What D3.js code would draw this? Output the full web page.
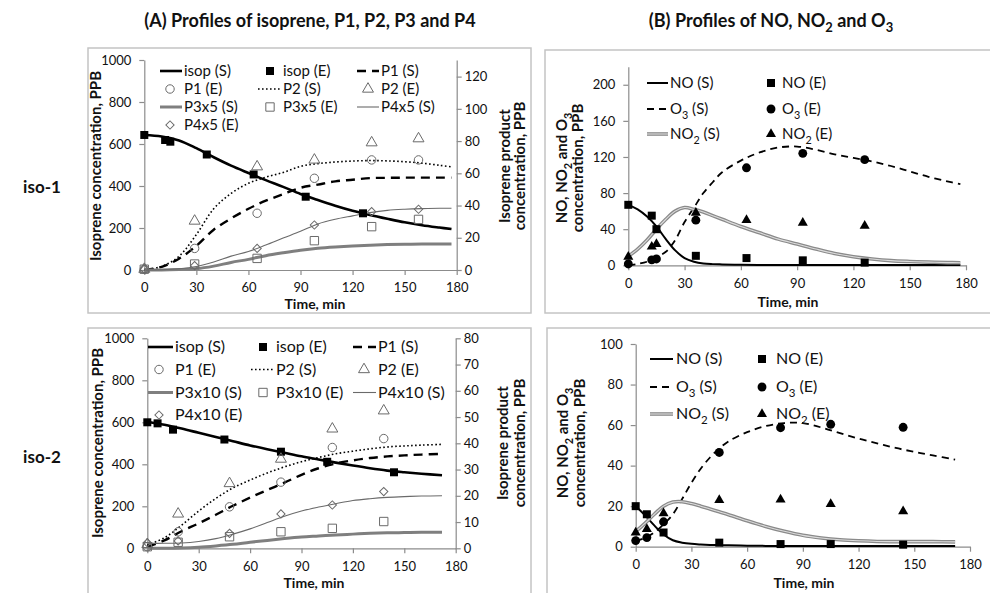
<!DOCTYPE html>
<html>
<head>
<meta charset="utf-8">
<script src="https://cdn.jsdelivr.net/npm/d3@7/dist/d3.min.js"></script>
<style>
  body { margin: 0; background: #fff; }
  svg text { font-family: Lato, "Open Sans", sans-serif; fill: #111; }
</style>
</head>
<body>
<svg id="chart" width="990" height="593"></svg>
<script>
'use strict';

// ---- data: iso-1, panel A (left axis isoprene, right axis products) ----
var a1ModelTime = [0, 10, 20, 30, 40, 50, 60, 70, 80, 90, 100, 110, 120, 130, 140, 150, 160, 170, 177];
var a1IsopS = [643, 636, 617, 580, 537, 497, 462, 428, 396, 362, 333, 306, 282, 262, 244, 227, 213, 202, 195];
var a1P1S = [0, 2, 7, 15, 25, 32, 38, 43, 47, 51, 53, 55, 56, 57, 57.2, 57.3, 57.3, 57.3, 57.3];
var a1P2S = [0, 2.2, 8.5, 22, 38, 47.5, 53.8, 57.6, 60.5, 64.3, 66, 67, 67.6, 67.9, 67.7, 67.2, 66.3, 65, 64];
var a1P3S = [0, 0, 0.3, 0.8, 2.4, 4.7, 6.6, 8.9, 10.7, 12.3, 13.5, 14.3, 14.9, 15.4, 15.8, 16, 16.1, 16.1, 16.1];
var a1P4S = [0, 0.2, 0.8, 2.2, 5, 8.6, 11.5, 15.5, 19.8, 24, 28.6, 31.5, 33.6, 35.6, 37, 37.7, 38.1, 38.3, 38.3];
var a1IsopTime = [0, 12, 15, 36, 63, 93, 126];
var a1IsopE = [643, 619, 611, 550, 455, 349, 270];
var a1ProdTime = [0, 29, 65, 98, 131, 158];
var a1P1E = [0.5, 13.4, 35.2, 56.9, 68.3, 68.3];
var a1P2E = [0.5, 30.4, 64.1, 68.3, 79, 81.5];
var a1P3E = [0.5, 3.7, 7.2, 18.2, 26.9, 31.4];
var a1P4E = [0.5, 2.7, 13.4, 27.9, 36.2, 37.7];

// ---- data: iso-2, panel A ----
var a2ModelTime = [0, 10, 20, 30, 40, 50, 60, 70, 80, 90, 100, 110, 120, 130, 140, 150, 160, 172];
var a2IsopS = [603, 588, 570, 550, 530, 510, 490, 472, 455, 438, 423, 408, 394, 381, 370, 362, 355, 348];
var a2P1S = [0.5, 3, 6.5, 9.5, 12.8, 16.2, 19.3, 22.2, 25, 28, 30.5, 32.3, 33.5, 34.4, 35, 35.4, 35.7, 36];
var a2P2S = [1.3, 4, 8.8, 14.2, 19, 23, 26, 28.7, 31, 33, 34.6, 36, 37, 37.9, 38.6, 39, 39.3, 39.6];
var a2P3S = [0, 0, 0.1, 0.4, 0.9, 1.5, 2.3, 3, 3.7, 4.3, 4.7, 5.1, 5.4, 5.7, 5.9, 6, 6.1, 6.1];
var a2P4S = [1.9, 1.9, 2, 2.6, 3.7, 5.4, 7.4, 9.8, 12.2, 14.2, 15.7, 17, 18.2, 18.9, 19.4, 19.7, 19.9, 20];
var a2IsopTime = [0, 6, 15, 45, 78, 105, 144];
var a2IsopE = [600, 595, 565, 518, 460, 412, 362];
var a2ProdTime = [0, 18, 48, 78, 108, 138];
var a2P1E = [0.6, 6.3, 15.8, 25.2, 38.4, 41.8];
var a2P2E = [1.5, 13.1, 24.7, 34, 45.5, 52.4];
var a2P3E = [0.6, 2.3, 4.4, 6.3, 7.6, 10.2];
var a2P4E = [2.1, 2.8, 5.7, 13.1, 16.5, 21.6];

// ---- data: iso-1, panel B ----
var b1ModelTime = [0, 5, 10, 15, 20, 25, 30, 35, 40, 45, 50, 60, 70, 80, 90, 100, 110, 120, 130, 140, 150, 160, 170, 177];
var b1NoS = [67, 62, 54, 43, 29, 16.5, 8, 4, 2, 1.3, 1, 0.6, 0.4, 0.3, 0.3, 0.3, 0.2, 0.2, 0.2, 0.2, 0.2, 0.2, 0.2, 0.2];
var b1O3S = [0, 1.5, 4, 9, 15, 28, 48, 64, 80, 92, 103, 116, 125, 130.5, 131.5, 128, 123, 119, 115, 110, 104, 98, 93, 90];
var b1No2S = [10, 18, 28, 40, 51, 60, 64, 62, 59, 55, 51, 43, 36, 29, 23.5, 18, 13, 9.5, 7, 5.2, 4.2, 3.5, 3, 2.9];
var b1ExpTime = [0, 12.5, 15, 36, 63, 93, 126];
var b1NoE = [67, 55, 40, 10.5, 8, 5.5, 3];
var b1O3E = [1.5, 6, 7, 50, 108, 124, 117];
var b1No2E = [9.5, 20.6, 23.5, 58, 50, 47, 43.8];

// ---- data: iso-2, panel B ----
var b2ModelTime = [0, 5, 10, 15, 20, 25, 30, 35, 40, 45, 50, 60, 70, 80, 90, 100, 110, 120, 130, 140, 150, 160, 172];
var b2NoS = [20, 15.5, 10.5, 6, 3.2, 2, 1.4, 1.1, 0.9, 0.8, 0.7, 0.5, 0.4, 0.3, 0.3, 0.3, 0.3, 0.3, 0.3, 0.3, 0.3, 0.3, 0.3];
var b2O3S = [3, 4.3, 7, 11, 16, 23.5, 31.5, 38.5, 44, 48.5, 52, 56.5, 59.5, 61, 61, 58.8, 56, 53.3, 51, 48.7, 46.8, 45, 43];
var b2No2S = [7.5, 11.5, 16, 20, 22, 22.2, 21.3, 20, 18.6, 17.2, 15.8, 12.8, 10, 7.6, 5.6, 4.3, 3.4, 2.9, 2.6, 2.5, 2.5, 2.5, 2.4];
var b2ExpTime = [0, 6, 15, 45, 78, 105, 144];
var b2NoE = [20, 16, 7, 2, 1.3, 1.3, 1];
var b2O3E = [3, 4.5, 12.3, 46.5, 58.7, 60.4, 58.9];
var b2No2E = [7, 8.7, 16.5, 23, 23.3, 21, 17.5];

var timeTicks = [0, 30, 60, 90, 120, 150, 180];

// ---- styles ----
var lineStyles = {
  isop: {stroke: '#000', width: 2.6},
  p1: {stroke: '#000', width: 2.4, dash: '9,6'},
  p2: {stroke: '#000', width: 1.6, dash: '1.6,2.4'},
  p3: {stroke: '#7f7f7f', width: 3},
  p4: {stroke: '#6a6a6a', width: 1.1},
  no: {stroke: '#000', width: 2},
  o3: {stroke: '#000', width: 1.8, dash: '7,5'},
  no2: {stroke: '#8a8a8a', width: 3.6, inner: '#dcdcdc'}
};
var markerStyles = {
  isop: {type: 'square', size: 64, fill: '#000', stroke: 'none'},
  p1: {type: 'circle', size: 56, fill: 'none', stroke: '#6a6a6a'},
  p2: {type: 'triangle', size: 52, fill: 'none', stroke: '#6a6a6a'},
  p3: {type: 'square', size: 70, fill: 'none', stroke: '#6a6a6a'},
  p4: {type: 'diamond', size: 34, fill: 'none', stroke: '#6a6a6a'},
  no: {type: 'square', size: 64, fill: '#000', stroke: 'none'},
  o3: {type: 'circle', size: 62, fill: '#000', stroke: 'none'},
  no2: {type: 'triangle', size: 44, fill: '#000', stroke: 'none'}
};

var svg = d3.select('#chart');

function symbolPath(m) {
  var type = {square: d3.symbolSquare, circle: d3.symbolCircle,
              triangle: d3.symbolTriangle, diamond: d3.symbolSquare}[m.type];
  return d3.symbol().type(type).size(m.size)();
}

function drawMarker(g, m, cx, cy) {
  g.append('path')
    .attr('d', symbolPath(m))
    .attr('transform', 'translate(' + cx + ',' + cy + ')' + (m.type === 'diamond' ? ' rotate(45)' : ''))
    .attr('fill', m.fill)
    .attr('stroke', m.stroke)
    .attr('stroke-width', 1);
}

function drawLine(g, s, xs, ys, times, vals) {
  var line = d3.line()
    .x(function(d, i) { return xs(times[i]); })
    .y(function(d) { return ys(d); })
    .curve(d3.curveCatmullRom.alpha(0.5));
  var p = g.append('path').attr('d', line(vals))
    .attr('fill', 'none').attr('stroke', s.stroke).attr('stroke-width', s.width);
  if (s.dash) p.attr('stroke-dasharray', s.dash);
  if (s.inner) {
    g.append('path').attr('d', line(vals))
      .attr('fill', 'none').attr('stroke', s.inner).attr('stroke-width', 1.1);
  }
}

function drawLegendLine(g, s, x0, x1, y) {
  var p = g.append('line').attr('x1', x0).attr('x2', x1).attr('y1', y).attr('y2', y)
    .attr('stroke', s.stroke).attr('stroke-width', s.width);
  if (s.dash) p.attr('stroke-dasharray', s.dash);
  if (s.inner) {
    g.append('line').attr('x1', x0).attr('x2', x1).attr('y1', y).attr('y2', y)
      .attr('stroke', s.inner).attr('stroke-width', 1.1);
  }
}

// text with optional subscripts: parts = [['NO'], ['2', true], [' (S)']]
function richText(g, parts, x, y, size, bold) {
  var t = g.append('text').attr('x', x).attr('y', y)
    .style('font-size', size + 'px').style('font-weight', bold ? 700 : 400);
  var shifted = false;
  parts.forEach(function(p) {
    var ts = t.append('tspan').text(p[0]);
    if (p[1] && !shifted) { ts.attr('dy', size * 0.3).style('font-size', (size * 0.72) + 'px'); shifted = true; }
    else if (!p[1] && shifted) { ts.attr('dy', -size * 0.3); shifted = false; }
  });
  return t;
}

function styleAxis(ax) {
  ax.select('.domain').attr('stroke', '#8c8c8c').attr('stroke-width', 1.2);
  ax.selectAll('.tick line').attr('stroke', '#8c8c8c').attr('stroke-width', 1.2);
  ax.selectAll('.tick text').style('font-size', '13px').attr('fill', '#111');
}

function drawPanel(p) {
  var g = svg.append('g');
  g.append('rect').attr('x', p.frame[0]).attr('y', p.frame[1])
    .attr('width', p.frame[2]).attr('height', p.frame[3])
    .attr('fill', '#fff').attr('stroke', '#c4c4c4').attr('stroke-width', 1.5);

  var x = d3.scaleLinear().domain([0, 180]).range([p.left, p.right]);
  var y = d3.scaleLinear().domain([0, p.yMax]).range([p.bottom, p.top]);
  var y2 = p.y2Max ? d3.scaleLinear().domain([0, p.y2Max]).range([p.bottom, p.top]) : null;
  var fmt = d3.format('d');

  styleAxis(g.append('g').attr('transform', 'translate(0,' + p.bottom + ')')
    .call(d3.axisBottom(x).tickValues(timeTicks).tickFormat(fmt)
      .tickSize(5).tickSizeOuter(0).tickPadding(8)));
  styleAxis(g.append('g').attr('transform', 'translate(' + p.left + ',0)')
    .call(d3.axisLeft(y).tickValues(p.yTicks).tickFormat(fmt)
      .tickSize(5).tickSizeOuter(0).tickPadding(8)));
  if (y2) {
    styleAxis(g.append('g').attr('transform', 'translate(' + p.right + ',0)')
      .call(d3.axisRight(y2).tickValues(p.y2Ticks).tickFormat(fmt)
        .tickSize(5).tickSizeOuter(0).tickPadding(3)));
  }

  p.lines.forEach(function(l) {
    drawLine(g, lineStyles[l.key], x, l.right ? y2 : y, l.t, l.v);
  });
  p.points.forEach(function(s) {
    var ys = s.right ? y2 : y;
    s.v.forEach(function(v, i) { drawMarker(g, markerStyles[s.key], x(s.t[i]), ys(v)); });
  });

  // legend
  var lg = p.legend;
  lg.items.forEach(function(it) {
    var cy = lg.rows[it.row];
    var col = lg.cols[it.col];
    if (it.line) drawLegendLine(g, lineStyles[it.key], col.x0, col.x1, cy);
    else drawMarker(g, markerStyles[it.key], col.m, cy);
    richText(g, it.label, col.t, cy + 5, lg.size, false);
  });

  // axis titles
  p.leftTitle.concat(p.rightTitle || []).forEach(function(line) {
    richText(g, line.parts, 0, 0, 15, true)
      .attr('text-anchor', 'middle').attr('dy', '0.35em')
      .attr('transform', 'translate(' + line.x + ',' + p.titleY + ') rotate(-90)');
  });
  richText(g, [['Time, min']], p.timeX, p.timeY, 14, true).attr('text-anchor', 'middle');
}

var isoRightTitle = function(x1, x2) {
  return [{x: x1, parts: [['Isoprene product']]}, {x: x2, parts: [['concentration, PPB']]}];
};
var noLeftTitle = function(x1, x2) {
  return [{x: x1, parts: [['NO, NO'], ['2', true], [' and O'], ['3', true]]},
          {x: x2, parts: [['concentration, PPB']]}];
};

function legendA(factor) {
  return [
    {row: 0, col: 0, line: true, key: 'isop', label: [['isop (S)']]},
    {row: 0, col: 1, key: 'isop', label: [['isop (E)']]},
    {row: 0, col: 2, line: true, key: 'p1', label: [['P1 (S)']]},
    {row: 1, col: 0, key: 'p1', label: [['P1 (E)']]},
    {row: 1, col: 1, line: true, key: 'p2', label: [['P2 (S)']]},
    {row: 1, col: 2, key: 'p2', label: [['P2 (E)']]},
    {row: 2, col: 0, line: true, key: 'p3', label: [['P3x' + factor + ' (S)']]},
    {row: 2, col: 1, key: 'p3', label: [['P3x' + factor + ' (E)']]},
    {row: 2, col: 2, line: true, key: 'p4', label: [['P4x' + factor + ' (S)']]},
    {row: 3, col: 0, key: 'p4', label: [['P4x' + factor + ' (E)']]}
  ];
}
var legendB = [
  {row: 0, col: 0, line: true, key: 'no', label: [['NO (S)']]},
  {row: 0, col: 1, key: 'no', label: [['NO (E)']]},
  {row: 1, col: 0, line: true, key: 'o3', label: [['O'], ['3', true], [' (S)']]},
  {row: 1, col: 1, key: 'o3', label: [['O'], ['3', true], [' (E)']]},
  {row: 2, col: 0, line: true, key: 'no2', label: [['NO'], ['2', true], [' (S)']]},
  {row: 2, col: 1, key: 'no2', label: [['NO'], ['2', true], [' (E)']]}
];

// panel A, iso-1
drawPanel({
  frame: [88, 48, 443, 265],
  left: 144.3, right: 456.7, top: 60, bottom: 270,
  yMax: 1000, yTicks: [0, 200, 400, 600, 800, 1000],
  y2Max: 130.3, y2Ticks: [0, 20, 40, 60, 80, 100, 120],
  lines: [
    {key: 'isop', t: a1ModelTime, v: a1IsopS},
    {key: 'p1', right: true, t: a1ModelTime, v: a1P1S},
    {key: 'p2', right: true, t: a1ModelTime, v: a1P2S},
    {key: 'p3', right: true, t: a1ModelTime, v: a1P3S},
    {key: 'p4', right: true, t: a1ModelTime, v: a1P4S}
  ],
  points: [
    {key: 'isop', t: a1IsopTime, v: a1IsopE},
    {key: 'p1', right: true, t: a1ProdTime, v: a1P1E},
    {key: 'p2', right: true, t: a1ProdTime, v: a1P2E},
    {key: 'p3', right: true, t: a1ProdTime, v: a1P3E},
    {key: 'p4', right: true, t: a1ProdTime, v: a1P4E}
  ],
  legend: {
    size: 15, rows: [71, 89, 107, 125],
    cols: [{x0: 160, x1: 182, m: 170, t: 184}, {x0: 258, x1: 280, m: 270, t: 283}, {x0: 357, x1: 379, m: 368, t: 381}],
    items: legendA(5)
  },
  titleY: 166,
  leftTitle: [{x: 96, parts: [['Isoprene concentration, PPB']]}],
  rightTitle: isoRightTitle(505, 520),
  timeX: 315, timeY: 309
});

// panel A, iso-2
drawPanel({
  frame: [88, 328, 443, 275],
  left: 147.3, right: 455.7, top: 338.3, bottom: 548.3,
  yMax: 1000, yTicks: [0, 200, 400, 600, 800, 1000],
  y2Max: 80, y2Ticks: [0, 10, 20, 30, 40, 50, 60, 70, 80],
  lines: [
    {key: 'isop', t: a2ModelTime, v: a2IsopS},
    {key: 'p1', right: true, t: a2ModelTime, v: a2P1S},
    {key: 'p2', right: true, t: a2ModelTime, v: a2P2S},
    {key: 'p3', right: true, t: a2ModelTime, v: a2P3S},
    {key: 'p4', right: true, t: a2ModelTime, v: a2P4S}
  ],
  points: [
    {key: 'isop', t: a2IsopTime, v: a2IsopE},
    {key: 'p1', right: true, t: a2ProdTime, v: a2P1E},
    {key: 'p2', right: true, t: a2ProdTime, v: a2P2E},
    {key: 'p3', right: true, t: a2ProdTime, v: a2P3E},
    {key: 'p4', right: true, t: a2ProdTime, v: a2P4E}
  ],
  legend: {
    size: 16, rows: [347, 369.5, 392.5, 415],
    cols: [{x0: 148, x1: 173, m: 159, t: 175}, {x0: 251, x1: 273, m: 263, t: 276}, {x0: 353, x1: 376, m: 364, t: 378}],
    items: legendA(10)
  },
  titleY: 443,
  leftTitle: [{x: 98, parts: [['Isoprene concentration, PPB']]}],
  rightTitle: isoRightTitle(503, 520),
  timeX: 314, timeY: 588
});

// panel B, iso-1
drawPanel({
  frame: [545, 50, 450, 263],
  left: 628.3, right: 966, top: 66.7, bottom: 265.3,
  yMax: 220, yTicks: [0, 40, 80, 120, 160, 200],
  lines: [
    {key: 'no', t: b1ModelTime, v: b1NoS},
    {key: 'o3', t: b1ModelTime, v: b1O3S},
    {key: 'no2', t: b1ModelTime, v: b1No2S}
  ],
  points: [
    {key: 'no', t: b1ExpTime, v: b1NoE},
    {key: 'o3', t: b1ExpTime, v: b1O3E},
    {key: 'no2', t: b1ExpTime, v: b1No2E}
  ],
  legend: {
    size: 15, rows: [83, 109, 134],
    cols: [{x0: 647, x1: 668, m: 657, t: 670}, {x0: 760, x1: 780, m: 771, t: 782}],
    items: legendB
  },
  titleY: 168,
  leftTitle: noLeftTitle(562, 578),
  timeX: 788, timeY: 307
});

// panel B, iso-2
drawPanel({
  frame: [547, 328, 450, 275],
  left: 635.7, right: 970, top: 344, bottom: 546.7,
  yMax: 100, yTicks: [0, 20, 40, 60, 80, 100],
  lines: [
    {key: 'no', t: b2ModelTime, v: b2NoS},
    {key: 'o3', t: b2ModelTime, v: b2O3S},
    {key: 'no2', t: b2ModelTime, v: b2No2S}
  ],
  points: [
    {key: 'no', t: b2ExpTime, v: b2NoE},
    {key: 'o3', t: b2ExpTime, v: b2O3E},
    {key: 'no2', t: b2ExpTime, v: b2No2E}
  ],
  legend: {
    size: 16, rows: [359, 387, 414],
    cols: [{x0: 650, x1: 673, m: 661, t: 676}, {x0: 752, x1: 772, m: 762, t: 776}],
    items: legendB
  },
  titleY: 443,
  leftTitle: noLeftTitle(563, 580),
  timeX: 804, timeY: 588
});

// headings and row labels
svg.append('text').attr('x', 310).attr('y', 27).attr('text-anchor', 'middle')
  .style('font-size', '18px').style('font-weight', 700)
  .text('(A) Profiles of isoprene, P1, P2, P3 and P4');
richText(svg, [['(B)  Profiles of NO, NO'], ['2', true], [' and O'], ['3', true]], 771, 27, 18, true)
  .attr('text-anchor', 'middle');
svg.append('text').attr('x', 42).attr('y', 193).attr('text-anchor', 'middle')
  .style('font-size', '17px').style('font-weight', 700).text('iso-1');
svg.append('text').attr('x', 42).attr('y', 463).attr('text-anchor', 'middle')
  .style('font-size', '17px').style('font-weight', 700).text('iso-2');
</script>
</body>
</html>
